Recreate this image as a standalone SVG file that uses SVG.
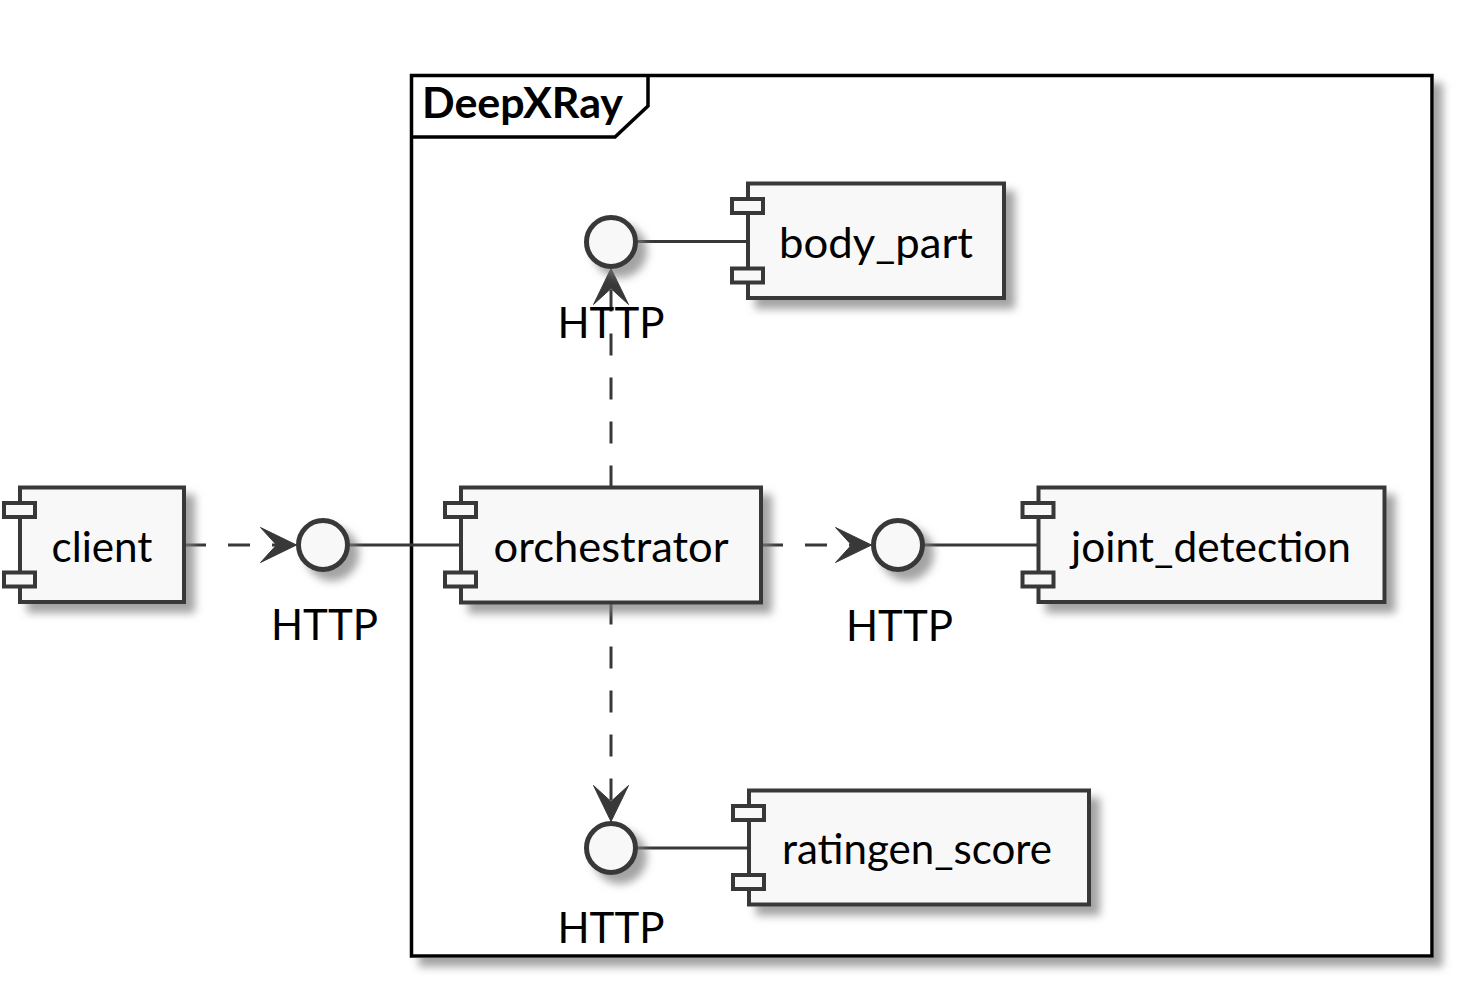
<svg xmlns="http://www.w3.org/2000/svg" width="1464" height="987" viewBox="0 0 1464 987">
<style>
.comp{fill:#F8F8F8;stroke:#383838;stroke-width:4}
.port{fill:#F8F8F8;stroke:#383838;stroke-width:4}
.iface{fill:#F8F8F8;stroke:#383838;stroke-width:5}
.lbl{font-family:Lato,"Liberation Sans",sans-serif;font-size:42px;fill:#000;text-anchor:middle}
.solid{stroke:#383838;stroke-width:3;fill:none}
.dash{stroke:#383838;stroke-width:3;fill:none;stroke-dasharray:22,22}
.head{fill:#383838;stroke:#383838;stroke-width:1}
</style>
<defs>
<filter id="sh" x="-50%" y="-50%" width="200%" height="200%">
<feGaussianBlur in="SourceAlpha" stdDeviation="4" result="b"/>
<feOffset in="b" dx="9" dy="9" result="o"/>
<feColorMatrix in="o" type="matrix" values="0 0 0 0 0.2 0 0 0 0 0.2 0 0 0 0 0.2 0 0 0 0.7 0" result="c"/>
<feMerge><feMergeNode in="c"/><feMergeNode in="SourceGraphic"/></feMerge>
</filter>
</defs>
<rect width="1464" height="987" fill="#FFFFFF"/>

<g id="frame-DeepXRay">
<rect x="411.5" y="75.5" width="1020.5" height="880.5" fill="#FFFFFF" stroke="#000" stroke-width="3.5" filter="url(#sh)"/>
<path d="M411.5,137 L615,137 L648,106 L648,75.5" fill="none" stroke="#000" stroke-width="3.5"/>
<text x="422" y="118" font-family="Lato,'Liberation Sans',sans-serif" font-weight="bold" font-size="42" textLength="201" lengthAdjust="spacingAndGlyphs" fill="#000">DeepXRay</text>
</g>

<g id="connectors">
<line class="dash" x1="184" y1="545" x2="276.5" y2="545"/>
<polygon class="head" points="296.5,545 260.5,527.5 276.5,545 260.5,562.5"/>
<line class="solid" x1="347.5" y1="545" x2="461" y2="545"/>
<line class="dash" x1="761" y1="545" x2="851.5" y2="545"/>
<polygon class="head" points="871.5,545 835.5,527.5 851.5,545 835.5,562.5"/>
<line class="solid" x1="922.5" y1="545" x2="1038.5" y2="545"/>
<line class="dash" x1="611" y1="487.5" x2="611" y2="288.5"/>
<polygon class="head" points="611,268.5 593.5,304.5 611,288.5 628.5,304.5"/>
<line class="solid" x1="635.5" y1="241.5" x2="748" y2="241.5"/>
<line class="dash" x1="611" y1="602.5" x2="611" y2="801.5"/>
<polygon class="head" points="611,821.5 593.5,785.5 611,801.5 628.5,785.5"/>
<line class="solid" x1="635.5" y1="848" x2="749" y2="848"/>
</g>

<g id="client">
<rect class="comp" x="20" y="487.5" width="164" height="114.5" filter="url(#sh)"/>
<rect class="port" x="4" y="503" width="31" height="14"/>
<rect class="port" x="4" y="572.5" width="31" height="14"/>
<text class="lbl" x="102" y="561.5" textLength="101" lengthAdjust="spacingAndGlyphs">client</text>
</g>

<g id="orchestrator">
<rect class="comp" x="461" y="487.5" width="300" height="115" filter="url(#sh)"/>
<rect class="port" x="445" y="503" width="31" height="14"/>
<rect class="port" x="445" y="572.5" width="31" height="14"/>
<text class="lbl" x="611" y="561.5" textLength="235" lengthAdjust="spacingAndGlyphs">orchestrator</text>
</g>

<g id="body_part">
<rect class="comp" x="748" y="183.5" width="256" height="114.5" filter="url(#sh)"/>
<rect class="port" x="732" y="199" width="31" height="14"/>
<rect class="port" x="732" y="268.5" width="31" height="14"/>
<text class="lbl" x="876" y="258" textLength="194" lengthAdjust="spacingAndGlyphs">body_part</text>
</g>

<g id="joint_detection">
<rect class="comp" x="1038.5" y="487.5" width="346" height="114.5" filter="url(#sh)"/>
<rect class="port" x="1022.5" y="503" width="31" height="14"/>
<rect class="port" x="1022.5" y="572.5" width="31" height="14"/>
<text class="lbl" x="1211" y="561.5" textLength="280" lengthAdjust="spacingAndGlyphs">joint_detection</text>
</g>

<g id="ratingen_score">
<rect class="comp" x="749" y="790.5" width="340" height="114" filter="url(#sh)"/>
<rect class="port" x="733" y="806" width="31" height="14"/>
<rect class="port" x="733" y="875" width="31" height="14"/>
<text class="lbl" x="917" y="863.5" textLength="270" lengthAdjust="spacingAndGlyphs">ratingen_score</text>
</g>

<g id="http-client">
<circle class="iface" cx="323" cy="545" r="24.5" filter="url(#sh)"/>
<text class="lbl" x="324.5" y="640" textLength="107" lengthAdjust="spacingAndGlyphs">HTTP</text>
</g>

<g id="http-joint_detection">
<circle class="iface" cx="898" cy="545" r="24.5" filter="url(#sh)"/>
<text class="lbl" x="899.5" y="641" textLength="107" lengthAdjust="spacingAndGlyphs">HTTP</text>
</g>

<g id="http-body_part">
<circle class="iface" cx="611" cy="242" r="24.5" filter="url(#sh)"/>
<text class="lbl" x="611" y="338" textLength="107" lengthAdjust="spacingAndGlyphs">HTTP</text>
</g>

<g id="http-ratingen_score">
<circle class="iface" cx="611" cy="848" r="24.5" filter="url(#sh)"/>
<text class="lbl" x="611" y="943" textLength="107" lengthAdjust="spacingAndGlyphs">HTTP</text>
</g>
</svg>
